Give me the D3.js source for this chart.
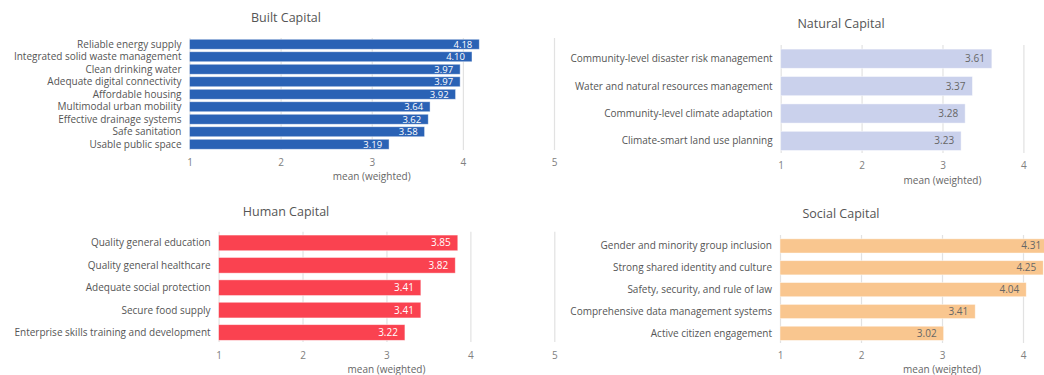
<!DOCTYPE html>
<html>
<head>
<meta charset="utf-8">
<script src="https://cdn.jsdelivr.net/npm/d3@7"></script>
<style>
  html, body { margin: 0; padding: 0; background: #fff; }
  svg { display: block; font-family: "Open Sans", "Noto Sans", sans-serif; }
</style>
</head>
<body>
<svg id="chart" width="1044" height="375"></svg>
<script>
// ---- data ----
const tickValues = [1, 2, 3, 4, 5];
const axisTitle = "mean (weighted)";

const builtTitle = "Built Capital";
const builtCategories = ["Reliable energy supply", "Integrated solid waste management", "Clean drinking water",
  "Adequate digital connectivity", "Affordable housing", "Multimodal urban mobility",
  "Effective drainage systems", "Safe sanitation", "Usable public space"];
const builtValues = [4.18, 4.10, 3.97, 3.97, 3.92, 3.64, 3.62, 3.58, 3.19];

const naturalTitle = "Natural Capital";
const naturalCategories = ["Community-level disaster risk management", "Water and natural resources management",
  "Community-level climate adaptation", "Climate-smart land use planning"];
const naturalValues = [3.61, 3.37, 3.28, 3.23];

const humanTitle = "Human Capital";
const humanCategories = ["Quality general education", "Quality general healthcare", "Adequate social protection",
  "Secure food supply", "Enterprise skills training and development"];
const humanValues = [3.85, 3.82, 3.41, 3.41, 3.22];

const socialTitle = "Social Capital";
const socialCategories = ["Gender and minority group inclusion", "Strong shared identity and culture",
  "Safety, security, and rule of law", "Comprehensive data management systems", "Active citizen engagement"];
const socialValues = [4.31, 4.25, 4.04, 3.41, 3.02];

// ---- layout / style (not data) ----
const W = 1044;
const panels = [
  { title: builtTitle, cats: builtCategories, vals: builtValues, color: "#2A62B5", labelColor: "#ffffff",
    x0: 189.5, x1: 554, y0: 38, y1: 150.5, pad: 0.2, titleX: 286, titleY: 17.5, gridBottom: 150,
    tickY: 162, axisY: 176, valSize: 9.5, catSize: 10 },
  { title: naturalTitle, cats: naturalCategories, vals: naturalValues, color: "#CAD1EC", labelColor: "#666666",
    x0: 780.7, x1: 1104.3, y0: 45, y1: 154.6, pad: 0.3, titleX: 841, titleY: 24, gridBottom: 153,
    tickY: 165.7, axisY: 180, valSize: 10, catSize: 10 },
  { title: humanTitle, cats: humanCategories, vals: humanValues, color: "#FA4250", labelColor: "#ffffff",
    x0: 218.6, x1: 554.3, y0: 231.7, y1: 343.7, pad: 0.3, titleX: 286, titleY: 211.7, gridBottom: 342,
    tickY: 355.7, axisY: 369.5, valSize: 10, catSize: 10 },
  { title: socialTitle, cats: socialCategories, vals: socialValues, color: "#F9C68F", labelColor: "#666666",
    x0: 780, x1: 1104, y0: 235, y1: 344.25, pad: 0.35, titleX: 841, titleY: 214, gridBottom: 343,
    tickY: 355.7, axisY: 369.5, valSize: 10, catSize: 10 }
];

const svg = d3.select("#chart");

panels.forEach(p => {
  const g = svg.append("g");
  const x = d3.scaleLinear().domain([1, 5]).range([p.x0, p.x1]);
  const y = d3.scaleBand().domain(p.cats).range([p.y0, p.y1]).paddingInner(p.pad).paddingOuter(p.pad / 2);

  // only ticks that fall inside the visible window
  const visibleTicks = tickValues.filter(t => x(t) < W - 4);

  // gridlines + tick labels via axis
  const axis = d3.axisBottom(x).tickValues(visibleTicks).tickFormat(d3.format("d"))
    .tickSizeInner(-(p.gridBottom - p.y0)).tickSizeOuter(0).tickPadding(p.tickY - p.gridBottom - 3.5);
  const ax = g.append("g").attr("transform", `translate(0,${p.gridBottom})`).call(axis);
  ax.select(".domain").remove();
  ax.selectAll(".tick line").attr("stroke", "#e2e2e2").attr("stroke-width", 1.2);
  ax.selectAll(".tick text").attr("fill", "#808080").attr("font-size", 10)
    .attr("font-family", "\"Open Sans\", sans-serif");

  // bars
  g.selectAll("rect.bar").data(p.vals).join("rect")
    .attr("class", "bar")
    .attr("x", x(1))
    .attr("y", (d, i) => y(p.cats[i]))
    .attr("width", d => x(d) - x(1))
    .attr("height", y.bandwidth())
    .attr("fill", p.color)
    .attr("stroke", "rgba(255,255,255,0.55)")
    .attr("stroke-width", 0.8);

  // value labels
  g.selectAll("text.val").data(p.vals).join("text")
    .attr("class", "val")
    .attr("x", d => Math.min(x(d) - 7, W - 2))
    .attr("y", (d, i) => y(p.cats[i]) + y.bandwidth() / 2)
    .attr("dy", "0.35em")
    .attr("text-anchor", "end")
    .attr("font-size", p.valSize)
    .attr("fill", p.labelColor)
    .text(d => d.toFixed(2));

  // category labels
  g.selectAll("text.cat").data(p.cats).join("text")
    .attr("class", "cat")
    .attr("x", p.x0 - 8)
    .attr("y", d => y(d) + y.bandwidth() / 2)
    .attr("dy", "0.35em")
    .attr("text-anchor", "end")
    .attr("font-size", p.catSize)
    .attr("fill", "#555")
    .text(d => d);

  // title
  g.append("text")
    .attr("x", p.titleX).attr("y", p.titleY).attr("dy", "0.35em")
    .attr("text-anchor", "middle").attr("font-size", 12.5).attr("fill", "#555")
    .text(p.title);

  // axis title
  g.append("text")
    .attr("x", x(3)).attr("y", p.axisY).attr("dy", "0.35em")
    .attr("text-anchor", "middle").attr("font-size", 10).attr("fill", "#666")
    .text(axisTitle);
});
</script>
</body>
</html>
